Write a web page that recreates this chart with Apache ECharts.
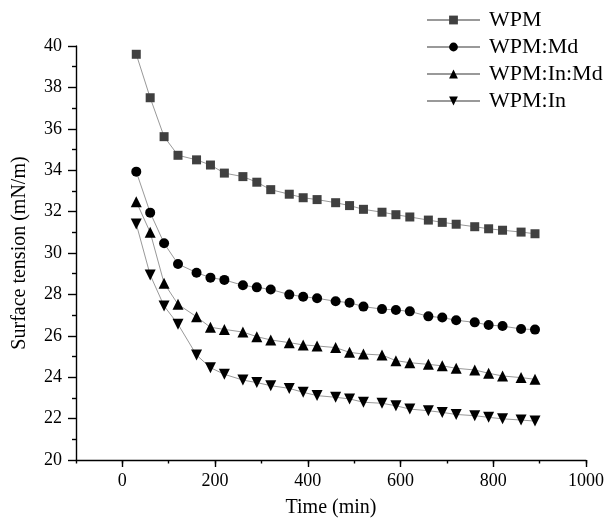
<!DOCTYPE html>
<html>
<head>
<meta charset="utf-8">
<script src="https://cdn.jsdelivr.net/npm/echarts@6/dist/echarts.min.js"></script>
<style>html,body{margin:0;padding:0;background:#fff;}#c{width:607px;height:523px;}</style>
</head>
<body>
<div id="c"></div>
<script>
const timeMin = [30,60,90,120,160,190,220,260,290,320,360,390,420,460,490,520,560,590,620,660,690,720,760,790,820,860,890];
const wpm = [39.6,37.5,35.62,34.72,34.5,34.25,33.86,33.69,33.42,33.06,32.84,32.67,32.58,32.43,32.29,32.11,31.97,31.85,31.74,31.59,31.48,31.39,31.27,31.17,31.1,31.01,30.93];
const wpmMd = [33.93,31.95,30.47,29.47,29.05,28.81,28.7,28.44,28.34,28.24,27.99,27.89,27.81,27.67,27.6,27.41,27.29,27.25,27.18,26.94,26.88,26.75,26.65,26.52,26.47,26.33,26.3];
const wpmInMd = [32.48,31.0,28.54,27.52,26.92,26.41,26.31,26.18,25.96,25.8,25.67,25.56,25.51,25.43,25.2,25.12,25.07,24.8,24.7,24.62,24.55,24.43,24.35,24.19,24.06,23.98,23.9];
const wpmIn = [31.4,28.94,27.44,26.56,25.07,24.46,24.14,23.86,23.74,23.59,23.46,23.27,23.11,23.03,22.95,22.79,22.74,22.62,22.46,22.38,22.3,22.2,22.14,22.06,21.99,21.93,21.88];
const xMajorTicks = [0,200,400,600,800,1000];
const seriesNames = ['WPM','WPM:Md','WPM:In:Md','WPM:In'];

const FONT = 'Liberation Serif';
const pair = arr => timeMin.map((t,i)=>[t,arr[i]]);
const lineGrey = '#999999';

const chart = echarts.init(document.getElementById('c'), null, {renderer:'canvas'});
chart.setOption({
  animation: false,
  backgroundColor: '#ffffff',
  grid: {left: 76, right: 20, top: 46, bottom: 62.5, containLabel: false},
  legend: {
    orient: 'vertical', left: 421, top: 4,
    itemWidth: 53, itemHeight: 11, itemGap: 5,
    textStyle: {fontFamily: FONT, fontSize: 22, color: '#000', padding: [0,0,0,4]},
    data: seriesNames
  },
  xAxis: [{
    type: 'value', min: -100, max: 1000, interval: 100,
    name: 'Time (min)', nameLocation: 'middle', nameGap: 38,
    nameTextStyle: {fontFamily: FONT, fontSize: 20, color: '#000'},
    axisLine: {show: true, onZero: false, lineStyle: {color: '#000', width: 1.4}},
    axisTick: {show: true, length: 3.5, lineStyle: {color: '#000', width: 1.4}},
    axisLabel: {fontFamily: FONT, fontSize: 18, color: '#000', margin: 12,
      formatter: v => (v % 200 === 0 && v >= 0) ? String(v) : ''},
    splitLine: {show: false}
  },{
    type: 'value', min: -100, max: 1000, position: 'bottom',
    axisLine: {show: false, onZero: false},
    axisTick: {show: true, length: 7, customValues: xMajorTicks, lineStyle: {color: '#000', width: 1.4}},
    axisLabel: {show: false},
    splitLine: {show: false}
  }],
  yAxis: {
    type: 'value', min: 20, max: 40, interval: 2,
    name: 'Surface tension (mN/m)', nameLocation: 'middle', nameGap: 46,
    nameTextStyle: {fontFamily: FONT, fontSize: 20, color: '#000'},
    axisLine: {show: true, onZero: false, lineStyle: {color: '#000', width: 1.4}},
    axisTick: {show: true, length: 8, lineStyle: {color: '#000', width: 1.4}},
    minorTick: {show: true, splitNumber: 2, length: 4, lineStyle: {color: '#000', width: 1.4}},
    axisLabel: {fontFamily: FONT, fontSize: 18, color: '#000', margin: 14},
    splitLine: {show: false}
  },
  series: [
    {name: seriesNames[0], type: 'line', data: pair(wpm), symbol: 'rect', symbolSize: 9,
      itemStyle: {color: '#404040'}, lineStyle: {color: lineGrey, width: 1}},
    {name: seriesNames[1], type: 'line', data: pair(wpmMd), symbol: 'circle', symbolSize: 10,
      itemStyle: {color: '#000'}, lineStyle: {color: lineGrey, width: 1}},
    {name: seriesNames[2], type: 'line', data: pair(wpmInMd), symbol: 'triangle', symbolSize: 11,
      itemStyle: {color: '#000'}, lineStyle: {color: lineGrey, width: 1}},
    {name: seriesNames[3], type: 'line', data: pair(wpmIn), symbol: 'triangle', symbolRotate: 180, symbolSize: 11,
      itemStyle: {color: '#000'}, lineStyle: {color: lineGrey, width: 1}}
  ]
});
</script>
</body>
</html>
